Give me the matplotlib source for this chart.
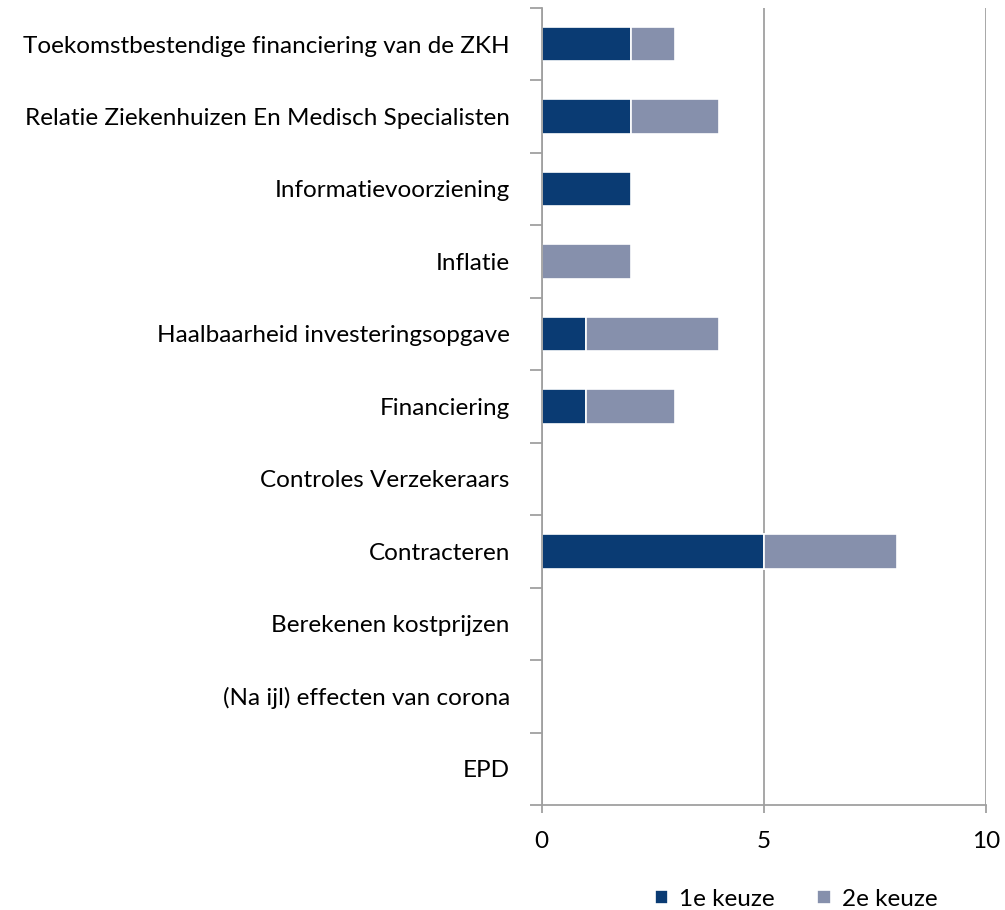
import numpy as np
import matplotlib.pyplot as plt

# Onderwerpen (van boven naar beneden) en aantal keer gekozen
onderwerpen = [
    "Toekomstbestendige financiering van de ZKH",
    "Relatie Ziekenhuizen En Medisch Specialisten",
    "Informatievoorziening",
    "Inflatie",
    "Haalbaarheid investeringsopgave",
    "Financiering",
    "Controles Verzekeraars",
    "Contracteren",
    "Berekenen kostprijzen",
    "(Na ijl) effecten van corona",
    "EPD",
]
keuze_1 = [2, 2, 2, 0, 1, 1, 0, 5, 0, 0, 0]
keuze_2 = [1, 2, 0, 2, 3, 2, 0, 3, 0, 0, 0]
x_ticks = [0, 5, 10]

DONKER = "#0A3B73"
LICHT = "#8690AC"
GRIJS = "#A0A0A0"
FS = 17.5

plt.rcParams["font.family"] = ["Lato", "DejaVu Sans"]

fig = plt.figure(figsize=(10.05, 9.1), dpi=100)
ax = fig.add_axes([0.539, 0.1154, 0.442, 0.876])

y = np.arange(len(onderwerpen))
# geen witte rand om lege balken, anders valt de as weg
rand_1 = [1.2 if v > 0 else 0 for v in keuze_1]
rand_2 = [1.2 if v > 0 else 0 for v in keuze_2]
ax.barh(y, keuze_1, height=0.48, color=DONKER, edgecolor="white", linewidth=rand_1,
        label="1e keuze", zorder=3)
ax.barh(y, keuze_2, left=keuze_1, height=0.48, color=LICHT, edgecolor="white",
        linewidth=rand_2, label="2e keuze", zorder=3)

ax.set_xlim(0, 10)
ax.set_ylim(len(onderwerpen) - 0.5, -0.5)

ax.set_xticks(x_ticks)
ax.set_xticklabels([str(t) for t in x_ticks], fontsize=FS)
ax.tick_params(axis="x", length=6, width=1.3, color=GRIJS, pad=13)

ax.set_yticks(y)
ax.set_yticklabels(onderwerpen, fontsize=FS)
ax.tick_params(axis="y", which="major", length=0, pad=23)
ax.set_yticks(np.arange(-0.5, len(onderwerpen)), minor=True)
ax.tick_params(axis="y", which="minor", length=9, width=1.3, color=GRIJS)

ax.grid(axis="x", color=GRIJS, linewidth=1.3, zorder=0)
for side in ["top", "right"]:
    ax.spines[side].set_visible(False)
for side in ["left", "bottom"]:
    ax.spines[side].set_color(GRIJS)
    ax.spines[side].set_linewidth(1.3)
    ax.spines[side].set_zorder(4)

fig.legend(*ax.get_legend_handles_labels(), loc="center",
           bbox_to_anchor=(0.792, 0.012), ncol=2, frameon=False,
           fontsize=FS, handlelength=0.55, handleheight=0.55, handletextpad=0.45,
           columnspacing=1.75)

fig.savefig("out.png", dpi=100)
